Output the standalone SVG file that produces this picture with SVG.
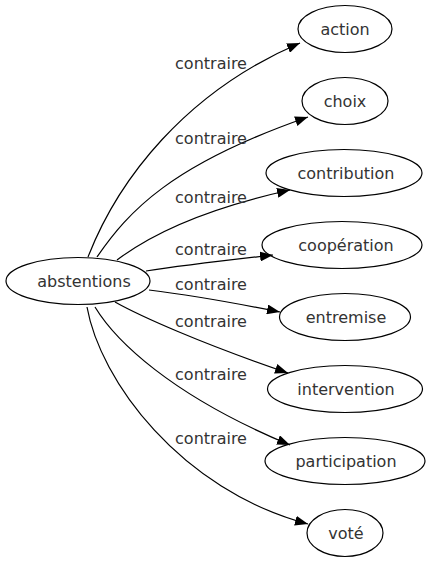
<svg xmlns="http://www.w3.org/2000/svg" width="430" height="563" viewBox="0 0 430 563">
<style>
  .node ellipse { fill: none; stroke: #000; stroke-width: 1.2; }
  .node text { font-family: "DejaVu Sans", sans-serif; font-size: 16px; fill: #333; text-anchor: middle; }
  .edges path { fill: none; stroke: #000; stroke-width: 1.2; marker-end: url(#arrow); }
  .edges text { font-family: "DejaVu Sans", sans-serif; font-size: 16px; fill: #333; text-anchor: middle; }
</style>
<defs>
  <marker id="arrow" markerUnits="userSpaceOnUse" viewBox="0 0 13 10" markerWidth="13" markerHeight="10" refX="13" refY="5" orient="auto">
    <path d="M0,0 L13,5 L0,10 z" fill="#000"/>
  </marker>
</defs>
<g id="edges" class="edges">
  <path d="M88,257 C118,180 185,92 300,43"/>
  <path d="M97,257 C128,212 170,165 308,117"/>
  <path d="M117,260 C150,235 200,210 290,190"/>
  <path d="M146,271 C185,265 230,260 273,255"/>
  <path d="M149,290 C190,295 235,303 280,312"/>
  <path d="M115,302 C140,316 200,343 288,373"/>
  <path d="M95,307 C115,340 170,395 290,445"/>
  <path d="M87,307 C100,380 180,490 308,524"/>
  <text x="211" y="69">contraire</text>
  <text x="211" y="144">contraire</text>
  <text x="211" y="203">contraire</text>
  <text x="211" y="255">contraire</text>
  <text x="211" y="290">contraire</text>
  <text x="211" y="327">contraire</text>
  <text x="211" y="380">contraire</text>
  <text x="211" y="444">contraire</text>
</g>
<g id="abstentions" class="node"><ellipse cx="78" cy="281" rx="72" ry="23.5"/><text x="84" y="287">abstentions</text></g>
<g id="action" class="node"><ellipse cx="345" cy="29" rx="47" ry="23.5"/><text x="345" y="35">action</text></g>
<g id="choix" class="node"><ellipse cx="345" cy="101" rx="43" ry="23.5"/><text x="345" y="107">choix</text></g>
<g id="contribution" class="node"><ellipse cx="344" cy="173" rx="78" ry="23.5"/><text x="346" y="179">contribution</text></g>
<g id="cooperation" class="node"><ellipse cx="342" cy="245" rx="80" ry="23.5"/><text x="346" y="251">coopération</text></g>
<g id="entremise" class="node"><ellipse cx="345" cy="317" rx="65.5" ry="23.5"/><text x="346" y="323">entremise</text></g>
<g id="intervention" class="node"><ellipse cx="345" cy="389" rx="77.5" ry="23.5"/><text x="346" y="395">intervention</text></g>
<g id="participation" class="node"><ellipse cx="345" cy="461" rx="80" ry="23.5"/><text x="346" y="467">participation</text></g>
<g id="vote" class="node"><ellipse cx="345" cy="533" rx="38" ry="23.5"/><text x="346" y="539">voté</text></g>
</svg>
